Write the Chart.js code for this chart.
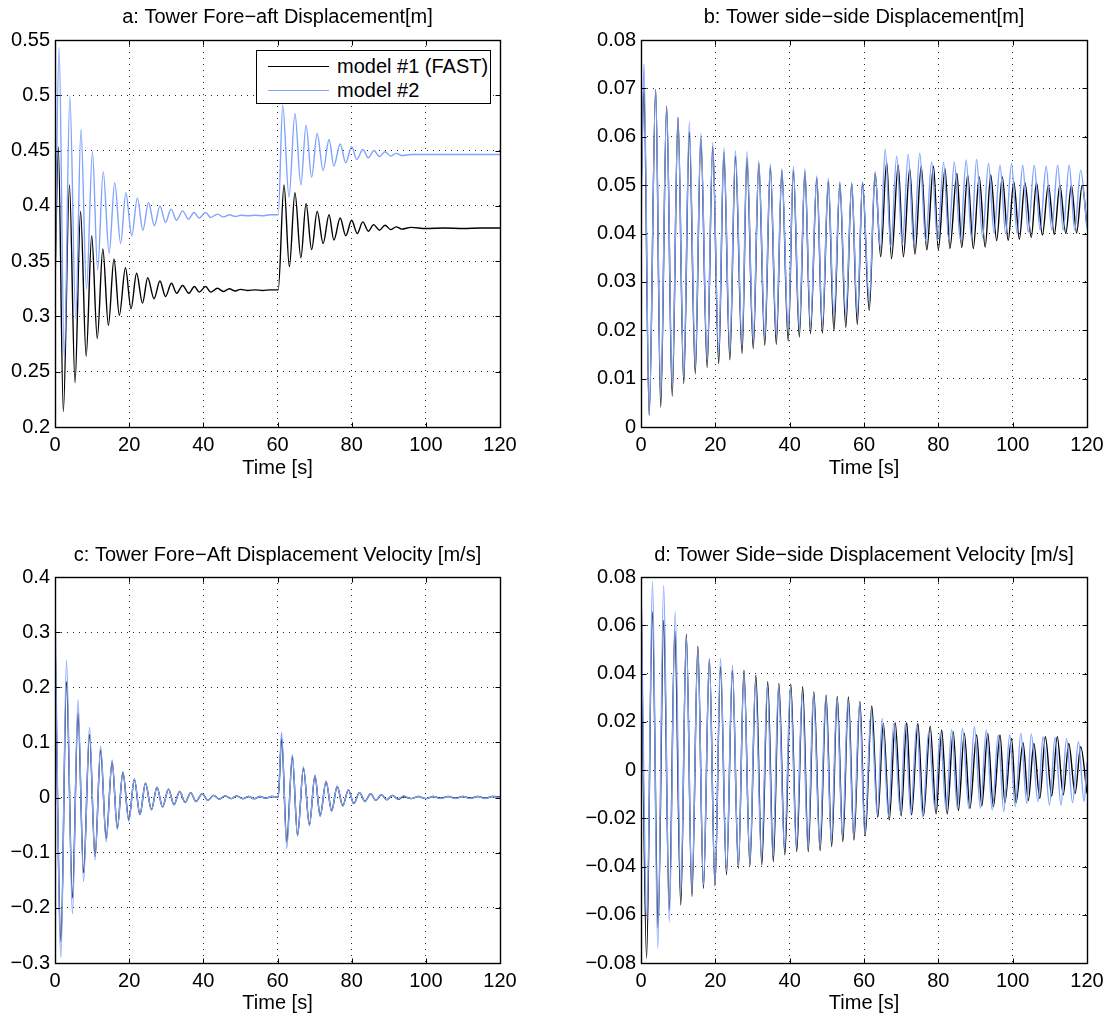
<!DOCTYPE html>
<html><head><meta charset="utf-8">
<script src="https://cdn.jsdelivr.net/npm/chart.js@4.4.1/dist/chart.umd.min.js"></script>
<style>
html,body{margin:0;padding:0;background:#fff;}
body{width:1112px;height:1021px;position:relative;overflow:hidden;font-family:'Liberation Sans',Arial,Helvetica,sans-serif;}
.panel{position:absolute;}
.legend{position:absolute;left:256px;top:50px;width:233px;height:52px;border:1px solid #000;background:#fff;font-size:20px;color:#000;}
.legend .sw{position:absolute;left:11px;width:61px;height:0;border-top:1.3px solid;}
.legend .tx{position:absolute;left:80px;white-space:nowrap;line-height:24px;height:24px;}
</style></head>
<body>
<div class="legend">
  <div class="sw" style="top:15px;border-color:#000"></div><div class="tx" style="top:3px">model #1 (FAST)</div>
  <div class="sw" style="top:39px;border-color:rgb(128,163,255)"></div><div class="tx" style="top:27px">model #2</div>
</div>
<script>
// ---- data: [time s, value] ----
const timeTicks = [0, 20, 40, 60, 80, 100, 120];
const yTicksA = [0.2, 0.25, 0.3, 0.35, 0.4, 0.45, 0.5, 0.55];
const yTicksB = [0, 0.01, 0.02, 0.03, 0.04, 0.05, 0.06, 0.07, 0.08];
const yTicksC = [-0.3, -0.2, -0.1, 0, 0.1, 0.2, 0.3, 0.4];
const yTicksD = [-0.08, -0.06, -0.04, -0.02, 0, 0.02, 0.04, 0.06, 0.08];
const seriesNames = ['model #1 (FAST)', 'model #2'];
const titles = [
  'a: Tower Fore\u2212aft Displacement[m]',
  'b: Tower side\u2212side Displacement[m]',
  'c: Tower Fore\u2212Aft Displacement Velocity [m/s]',
  'd: Tower Side\u2212side Displacement Velocity [m/s]'
];

const aModel1 = [[0,0.33],[0.9,0.453],[2.25,0.214],[3.9,0.419],[5.4,0.24],[6.9,0.395],[8.4,0.264],[9.9,0.373],[11.4,0.28],[12.9,0.361],[14.4,0.292],[15.9,0.352],[17.35,0.301],[19.0,0.344],[20.5,0.307],[22.0,0.339],[23.6,0.312],[25.0,0.335],[26.7,0.316],[28.3,0.332],[29.8,0.318],[31.4,0.330],[32.8,0.321],[34.4,0.328],[36.1,0.321],[37.6,0.327],[38.9,0.322],[40.6,0.327],[42.0,0.322],[43.8,0.3255],[45.4,0.3225],[47.0,0.325],[48.6,0.323],[50.0,0.3245],[52.0,0.3235],[54.0,0.324],[56.0,0.3235],[58.0,0.324],[60.2,0.324],[61.75,0.419],[63.2,0.345],[64.7,0.412],[66.3,0.353],[67.7,0.402],[69.2,0.3605],[70.7,0.395],[72.3,0.366],[73.9,0.392],[75.2,0.369],[76.9,0.389],[78.4,0.373],[80.0,0.387],[81.5,0.375],[83.0,0.3855],[84.5,0.377],[85.9,0.383],[87.5,0.378],[89.0,0.3825],[90.5,0.3785],[92.0,0.381],[93.5,0.379],[96,0.3805],[100,0.3795],[105,0.380],[110,0.3795],[115,0.380],[120,0.380]];
const aModel2 = [[0,0.33],[1.1,0.543],[2.5,0.262],[4.0,0.499],[5.6,0.298],[7.0,0.469],[8.5,0.325],[10.1,0.449],[11.5,0.342],[13.0,0.431],[14.6,0.357],[16.1,0.421],[17.7,0.366],[19.1,0.412],[20.7,0.373],[22.2,0.407],[23.7,0.378],[25.2,0.403],[26.8,0.382],[28.3,0.400],[29.8,0.385],[31.3,0.397],[32.8,0.387],[34.4,0.3955],[36.0,0.388],[37.5,0.394],[38.9,0.389],[40.6,0.394],[42.0,0.3895],[43.8,0.3925],[45.4,0.390],[47.0,0.392],[48.6,0.3905],[50.2,0.3915],[52,0.391],[54,0.3915],[56,0.391],[58,0.392],[60.2,0.392],[61.4,0.491],[63.1,0.408],[64.7,0.4835],[66.3,0.419],[67.7,0.473],[69.2,0.426],[70.7,0.4655],[72.3,0.432],[73.9,0.460],[75.2,0.436],[76.9,0.456],[78.4,0.439],[80.0,0.4535],[81.4,0.442],[83.0,0.451],[84.5,0.4435],[86.0,0.450],[87.5,0.4445],[89,0.449],[90.5,0.445],[92,0.4475],[93.5,0.4455],[96,0.4465],[100,0.4465],[110,0.4465],[120,0.4465]];

const bModel1 = [[0,0.048],[0.8,0.070],[2.2,0.0024],[3.95,0.0698],[5.3,0.0041],[6.9,0.0663],[8.4,0.0064],[9.95,0.064],[11.5,0.009],[13,0.061],[14.6,0.011],[16.1,0.0597],[17.8,0.0123],[19.3,0.058],[20.9,0.0131],[22.3,0.0568],[23.9,0.0139],[25.4,0.056],[27.2,0.0152],[28.5,0.0556],[30.2,0.0162],[31.7,0.0545],[33.3,0.0169],[34.8,0.0537],[36.4,0.0171],[37.9,0.053],[39.6,0.0178],[41,0.053],[42.6,0.0186],[44.1,0.0527],[45.6,0.0193],[47.3,0.0515],[48.8,0.0194],[50.4,0.0508],[51.9,0.0199],[53.5,0.0503],[55.1,0.0206],[56.7,0.0503],[58.2,0.0212],[59.6,0.0505],[61.4,0.0241],[63,0.0524],[64.5,0.0352],[66.1,0.0548],[67.4,0.0348],[69.2,0.0541],[70.6,0.0352],[72.3,0.0534],[73.7,0.0357],[75.4,0.0539],[76.9,0.0366],[78.7,0.0539],[80,0.0367],[81.8,0.0534],[83.1,0.0369],[85,0.0524],[86.3,0.0371],[87.9,0.0521],[89.4,0.0369],[91,0.0517],[92.6,0.0372],[94.1,0.0521],[95.7,0.0385],[97.2,0.0517],[98.8,0.0386],[100.3,0.0507],[101.8,0.0388],[103.3,0.0505],[105,0.0392],[106.4,0.0505],[108,0.0397],[109.6,0.05],[111.2,0.0398],[112.7,0.05],[114.3,0.04],[115.8,0.05],[117.2,0.0401],[118.7,0.05],[120,0.0415]];
const bModel2 = [[0,0.041],[0.8,0.075],[2.2,0.0024],[3.95,0.0698],[5.3,0.0062],[6.9,0.0663],[8.4,0.0083],[9.95,0.064],[11.5,0.0103],[13,0.063],[14.6,0.0124],[16.1,0.0607],[17.8,0.0139],[19.3,0.0588],[20.9,0.015],[22.3,0.0577],[23.9,0.0155],[25.4,0.0571],[27.2,0.0169],[28.5,0.0569],[30.2,0.0179],[31.7,0.055],[33.3,0.0185],[34.8,0.0543],[36.4,0.019],[37.9,0.0534],[39.6,0.0197],[41,0.0538],[42.6,0.0203],[44.1,0.0534],[45.6,0.0208],[47.3,0.0519],[48.8,0.021],[50.4,0.0514],[51.9,0.0228],[53.5,0.0507],[55.1,0.0231],[56.7,0.0505],[58.2,0.0234],[59.6,0.0507],[61.4,0.0262],[63,0.0528],[64.4,0.0369],[65.7,0.0574],[67.2,0.0372],[68.8,0.056],[70.3,0.0376],[71.9,0.0564],[73.4,0.0378],[75,0.0566],[76.6,0.0385],[78.2,0.0548],[79.8,0.0385],[81.4,0.0547],[82.8,0.0388],[84.3,0.0548],[85.9,0.0388],[87.5,0.0552],[88.9,0.039],[90.3,0.0553],[91.9,0.0392],[93.5,0.0545],[95,0.04],[96.6,0.0541],[98.1,0.04],[99.7,0.0545],[101.2,0.04],[102.7,0.0541],[104.2,0.0403],[105.8,0.0541],[107.4,0.0407],[109,0.0539],[110.5,0.0408],[112.1,0.0541],[113.6,0.0407],[115.2,0.0541],[116.7,0.0407],[118.3,0.0531],[120,0.041]];

const cModel1 = [[0,0.29],[1.6,-0.261],[3.1,0.21],[4.7,-0.182],[6.2,0.153],[7.7,-0.136],[9.3,0.114],[10.8,-0.107],[12.3,0.0864],[13.8,-0.074],[15.4,0.065],[16.8,-0.055],[18.3,0.046],[19.9,-0.040],[21.4,0.033],[22.9,-0.031],[24.4,0.026],[26,-0.022],[27.5,0.019],[29,-0.017],[30.6,0.015],[32.1,-0.013],[33.6,0.011],[35.1,-0.009],[36.6,0.009],[38,-0.007],[39.7,0.007],[41.2,-0.005],[42.8,0.004],[44.3,-0.003],[45.9,0.003],[47.5,-0.002],[49,0.003],[50.6,-0.002],[52.2,0.002],[53.7,-0.002],[55.3,0.002],[56.8,-0.001],[58.4,0.002],[60.2,0.001],[61.1,0.1075],[62.5,-0.08],[64,0.074],[65.4,-0.068],[67,0.053],[68.6,-0.049],[70.1,0.039],[71.5,-0.033],[73.1,0.029],[74.6,-0.024],[76.1,0.020],[77.6,-0.015],[79.1,0.014],[80.6,-0.011],[82.1,0.009],[83.6,-0.007],[85.1,0.007],[86.5,-0.005],[88,0.005],[89.5,-0.004],[91,0.004],[92.5,-0.003],[94,0.002],[96,-0.002],[98,0.002],[100,-0.002],[102,0.002],[104,-0.001],[106,0.002],[108,-0.001],[110,0.002],[112,-0.001],[114,0.002],[116,-0.001],[118,0.002],[120,0.001]];
const cModel2 = [[0,0.35],[1.6,-0.29],[3.1,0.249],[4.7,-0.211],[6.2,0.177],[7.7,-0.152],[9.3,0.127],[10.8,-0.113],[12.3,0.093],[13.8,-0.08],[15.4,0.068],[16.8,-0.058],[18.3,0.047],[19.9,-0.043],[21.4,0.034],[22.9,-0.031],[24.4,0.026],[26,-0.022],[27.5,0.019],[29,-0.017],[30.6,0.015],[32.1,-0.013],[33.6,0.011],[35.1,-0.009],[36.6,0.009],[38,-0.007],[39.7,0.007],[41.2,-0.005],[42.8,0.004],[44.3,-0.003],[45.9,0.003],[47.5,-0.002],[49,0.003],[50.6,-0.002],[52.2,0.002],[53.7,-0.002],[55.3,0.002],[56.8,-0.001],[58.4,0.002],[60.2,0.001],[61.1,0.118],[62.5,-0.092],[64,0.078],[65.4,-0.07],[67,0.056],[68.6,-0.051],[70.1,0.041],[71.5,-0.034],[73.1,0.030],[74.6,-0.025],[76.1,0.021],[77.6,-0.016],[79.1,0.014],[80.6,-0.011],[82.1,0.009],[83.6,-0.007],[85.1,0.007],[86.5,-0.005],[88,0.005],[89.5,-0.004],[91,0.004],[92.5,-0.003],[94,0.003],[96,-0.002],[98,0.002],[100,-0.002],[102,0.002],[104,-0.002],[106,0.002],[108,-0.002],[110,0.002],[112,-0.002],[114,0.002],[116,-0.002],[118,0.002],[120,0]];

const dModel1 = [[0,0.076],[1.5,-0.078],[3.05,0.0655],[4.6,-0.0655],[6.1,0.062],[7.6,-0.058],[9.1,0.058],[10.7,-0.056],[12.2,0.0563],[13.7,-0.0524],[15.3,0.0513],[16.8,-0.049],[18.4,0.046],[19.9,-0.048],[21.4,0.0428],[23,-0.0434],[24.6,0.0414],[26.2,-0.0407],[27.7,0.0414],[29.3,-0.0397],[30.9,0.0393],[32.5,-0.0393],[34.1,0.0366],[35.6,-0.038],[37.1,0.0359],[38.7,-0.0352],[40.3,0.0356],[41.9,-0.0338],[43.5,0.0345],[45,-0.0338],[46.5,0.0324],[48.2,-0.0334],[49.8,0.031],[51.3,-0.0317],[52.8,0.0305],[54.3,-0.0297],[55.8,0.0303],[57.3,-0.029],[58.9,0.0283],[60.3,-0.0273],[62.1,0.0265],[63.7,-0.0196],[65.2,0.0193],[66.8,-0.0207],[68.4,0.0196],[70,-0.019],[71.5,0.0196],[72.8,-0.0186],[74.5,0.0193],[76,-0.019],[77.8,0.0182],[79.4,-0.0182],[80.9,0.0166],[82.4,-0.0182],[84,0.0159],[85.4,-0.0168],[87,0.0152],[88.5,-0.0159],[90.3,0.0145],[91.7,-0.0149],[93.3,0.0152],[94.8,-0.0152],[96.6,0.0145],[97.9,-0.0135],[99.7,0.0131],[100.9,-0.0135],[102.8,0.0113],[104.2,-0.0127],[105.7,0.011],[107.3,-0.0117],[108.8,0.0138],[110.5,-0.0108],[112,0.0138],[113.6,-0.0103],[115.1,0.011],[116.8,-0.0097],[118.3,0.0097],[120,-0.0097]];
const dModel2 = [[0,0.078],[1.6,-0.062],[3.1,0.078],[4.5,-0.074],[6.1,0.0765],[7.6,-0.063],[9.2,0.0655],[10.7,-0.051],[12.2,0.055],[13.7,-0.050],[15.3,0.0503],[16.8,-0.0476],[18.4,0.046],[19.9,-0.0476],[21.4,0.0462],[23,-0.042],[24.6,0.0434],[26.2,-0.040],[27.7,0.040],[29.3,-0.0383],[30.8,0.0366],[32.4,-0.0366],[34,0.0348],[35.5,-0.0356],[37,0.0352],[38.6,-0.0324],[40.2,0.0345],[41.8,-0.0317],[43.4,0.032],[44.9,-0.0324],[46.4,0.0317],[48.1,-0.0317],[49.7,0.0303],[51.2,-0.0297],[52.7,0.0297],[54.2,-0.0276],[55.7,0.029],[57.2,-0.0276],[58.8,0.0276],[60.2,-0.0262],[61.9,0.024],[63.6,-0.0186],[64.9,0.0214],[66.6,-0.0193],[68,0.0193],[69.8,-0.0179],[71.1,0.0193],[72.6,-0.0182],[74.2,0.0186],[75.8,-0.0196],[77.4,0.0159],[79.1,-0.0166],[80.5,0.0152],[82.1,-0.0166],[83.6,0.0168],[85.1,-0.0159],[86.5,0.0172],[88.2,-0.0159],[89.7,0.0179],[91.3,-0.0159],[92.9,0.0166],[94.5,-0.0166],[96.1,0.0145],[97.6,-0.0172],[99.2,0.0145],[100.7,-0.0152],[102.2,0.0152],[103.8,-0.0138],[105,0.0149],[106.8,-0.0131],[108.2,0.0138],[109.9,-0.0145],[111.4,0.0135],[113,-0.0145],[114.5,0.013],[116.1,-0.0135],[117.7,0.0117],[119.2,-0.013],[120,0.003]];

// ---- rendering ----
const FONT = "'Liberation Sans', Arial, Helvetica, sans-serif";
const FS = 20;
const BLUE = 'rgb(128,163,255)';
Chart.defaults.font.family = FONT;
Chart.defaults.font.size = FS;
Chart.defaults.color = '#000';

function fmt(v){ return String(Math.round(v*1e6)/1e6).replace('-', '\u2212'); }
function toXY(arr){ return arr.map(p => ({x: p[0], y: p[1]})); }

const framePlugin = {
  id: 'frame',
  afterDatasetsDraw(chart){
    const {ctx, chartArea, scales} = chart;
    const L = Math.round(chartArea.left) + 0.5, T = Math.round(chartArea.top) + 0.5;
    const R = Math.round(chartArea.right) + 0.5, B = Math.round(chartArea.bottom) + 0.5;
    ctx.save();
    ctx.setLineDash([]);
    ctx.strokeStyle = '#000';
    ctx.lineWidth = 1;
    ctx.beginPath();
    scales.x.ticks.forEach(t => {
      const px = Math.round(scales.x.getPixelForValue(t.value)) + 0.5;
      ctx.moveTo(px, B); ctx.lineTo(px, B - 5);
      ctx.moveTo(px, T); ctx.lineTo(px, T + 5);
    });
    scales.y.ticks.forEach(t => {
      const py = Math.round(scales.y.getPixelForValue(t.value)) + 0.5;
      ctx.moveTo(L, py); ctx.lineTo(L + 5, py);
      ctx.moveTo(R, py); ctx.lineTo(R - 5, py);
    });
    ctx.stroke();
    ctx.lineWidth = 1.4;
    ctx.strokeRect(L, T, R - L, B - T);
    ctx.restore();
  }
};

const panels = [
  {left:0,   top:0,   w:540, h:485, padRight:40, tpt:5,  tpb:11, xpb:5, title:titles[0], s1:aModel1, s2:aModel2, ymin:0.2,  ymax:0.55, yt:yTicksA},
  {left:586, top:0,   w:526, h:485, padRight:25, tpt:5,  tpb:11, xpb:5, title:titles[1], s1:bModel1, s2:bModel2, ymin:0,    ymax:0.08, yt:yTicksB},
  {left:0,   top:530, w:540, h:491, padRight:40, tpt:13, tpb:10, xpb:6, title:titles[2], s1:cModel1, s2:cModel2, ymin:-0.3, ymax:0.4,  yt:yTicksC},
  {left:586, top:530, w:526, h:491, padRight:25, tpt:13, tpb:10, xpb:6, title:titles[3], s1:dModel1, s2:dModel2, ymin:-0.08,ymax:0.08, yt:yTicksD}
];

panels.forEach(p => {
  const div = document.createElement('div');
  div.className = 'panel';
  div.style.left = p.left + 'px'; div.style.top = p.top + 'px';
  div.style.width = p.w + 'px'; div.style.height = p.h + 'px';
  const cv = document.createElement('canvas');
  cv.width = p.w; cv.height = p.h;
  cv.style.width = p.w + 'px'; cv.style.height = p.h + 'px';
  div.appendChild(cv);
  document.body.insertBefore(div, document.querySelector('.legend'));
  const gridCommon = {color: 'rgba(0,0,0,0.85)', lineWidth: 1, drawTicks: false};
  new Chart(cv, {
    type: 'line',
    data: {datasets: [
      {label: seriesNames[1], data: toXY(p.s2), borderColor: BLUE, borderWidth: 1.4, pointRadius: 0, cubicInterpolationMode: 'monotone', order: 0},
      {label: seriesNames[0], data: toXY(p.s1), borderColor: '#000', borderWidth: 1.4, pointRadius: 0, cubicInterpolationMode: 'monotone', order: 1}
    ]},
    options: {
      responsive: false, animation: false, devicePixelRatio: 1,
      events: [],
      layout: {padding: {left: 0, top: 0, right: p.padRight, bottom: 0}},
      plugins: {
        legend: {display: false}, tooltip: {enabled: false},
        title: {display: true, text: p.title, fullSize: false, color: '#000',
                font: {size: FS, weight: 'normal', family: FONT},
                padding: {top: p.tpt, bottom: p.tpb}}
      },
      scales: {
        x: {
          type: 'linear', min: 0, max: 120,
          afterBuildTicks: s => { s.ticks = timeTicks.map(v => ({value: v})); },
          afterFit: s => { s.height = 58; },
          grid: gridCommon,
          border: {display: false, dash: [1, 5]},
          ticks: {padding: 6, color: '#000', font: {size: FS}, maxRotation: 0, autoSkip: false, callback: v => fmt(v)},
          title: {display: true, text: 'Time [s]', color: '#000', font: {size: FS}, padding: {top: 0, bottom: p.xpb}}
        },
        y: {
          type: 'linear', min: p.ymin, max: p.ymax,
          afterBuildTicks: s => { s.ticks = p.yt.map(v => ({value: v})); },
          afterFit: s => { s.width = 55; },
          grid: gridCommon,
          border: {display: false, dash: [1, 5]},
          ticks: {padding: 5, color: '#000', font: {size: FS}, autoSkip: false, callback: v => fmt(v)}
        }
      }
    },
    plugins: [framePlugin]
  });
});
</script>
</body></html>
